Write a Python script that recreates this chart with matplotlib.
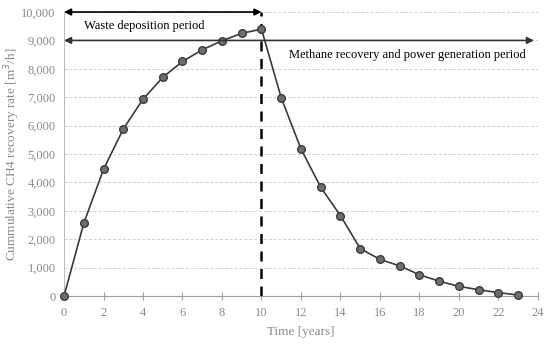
import numpy as np
import matplotlib.pyplot as plt

years = np.arange(0, 24)
recovery = [0, 2560, 4460, 5880, 6930, 7700, 8260, 8670, 8990, 9250, 9400,
            6980, 5180, 3830, 2830, 1670, 1290, 1060, 750, 520, 340, 220, 120, 35]

plt.rcParams['font.family'] = ['Liberation Serif']
grey = '#8a8a8a'

fig = plt.figure(figsize=(5.5, 3.44), dpi=100)
ax = fig.add_axes([0.1164, 0.1395, 0.8616, 0.8255])

ax.plot(years, recovery, color='#3a3a3a', lw=1.2, marker='o', ms=5.5,
        mfc='#6e6e6e', mec='#3a3a3a', mew=1.0, zorder=4, clip_on=False)

# end of deposition
ax.plot([10, 10], [0, 10000], color='black', lw=1.8, ls=(0, (4, 3)), zorder=3)

ax.annotate('', xy=(0, 10000), xytext=(10, 10000),
            arrowprops=dict(arrowstyle='<|-|>', color='black', lw=1.2,
                            mutation_scale=10, shrinkA=0, shrinkB=0), zorder=5)
ax.annotate('', xy=(0, 9000), xytext=(23.8, 9000),
            arrowprops=dict(arrowstyle='<|-|>', color='#333333', lw=1.2,
                            mutation_scale=10, shrinkA=0, shrinkB=0), zorder=5)
ax.text(1.0, 9500, 'Waste deposition period', fontsize=9, va='center', ha='left')
ax.text(11.4, 8500, 'Methane recovery and power generation period', fontsize=9,
        va='center', ha='left')

ax.set_xlim(0, 24)
ax.set_ylim(0, 10000)
ax.set_xticks(np.arange(0, 25, 2))
ax.set_yticks(np.arange(0, 10001, 1000))
ax.set_yticklabels([f'{v:,}' for v in range(0, 10001, 1000)])
ax.grid(axis='y', color='#cfcfcf', ls=(0, (3, 2)), lw=0.7)
ax.set_axisbelow(True)

for s in ['top', 'right']:
    ax.spines[s].set_visible(False)
ax.spines['left'].set_color('#bdbdbd')
ax.spines['bottom'].set_color('#a0a0a0')
ax.tick_params(axis='x', direction='inout', length=6, color='#a0a0a0',
               labelcolor=grey, labelsize=9, pad=5)
ax.tick_params(axis='y', length=0, labelcolor=grey, labelsize=9, pad=6)

ax.set_xlabel('Time [years]', color=grey, fontsize=9.5, labelpad=5)
ax.set_ylabel('Cummulative CH4 recovery rate [m$^3$/h]', color=grey, fontsize=9.5)
ax.yaxis.set_label_coords(-0.088, 0.5)

fig.savefig('out.png', dpi=100)
